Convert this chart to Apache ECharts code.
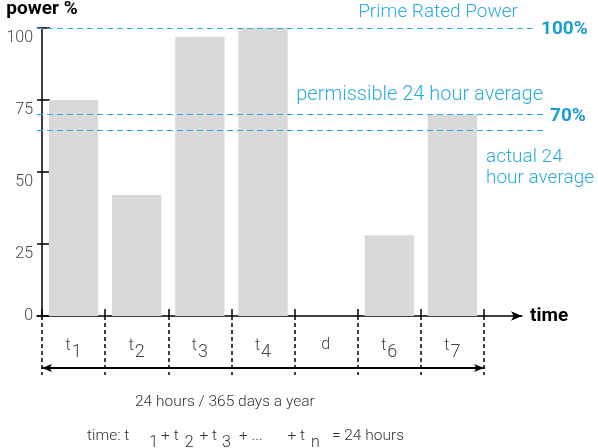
<!DOCTYPE html>
<html>
<head>
<meta charset="utf-8">
<script src="https://cdn.jsdelivr.net/npm/echarts@6/dist/echarts.min.js"></script>
<style>
  html, body { margin: 0; padding: 0; background: #fff; }
  #main { width: 598px; height: 448px; }
</style>
</head>
<body>
<div id="main"></div>
<script>
  // intervals of the day, d = downtime
  var periods = ['t1', 't2', 't3', 't4', 'd', 't6', 't7'];
  var powerValues = [75, 42, 97, 100, 0, 28, 70];
  var yTicks = [0, 25, 50, 75, 100];
  // prime rated, permissible average, actual average
  var refLevels = [100, 70, 64.6];

  var font = 'Roboto, "Liberation Sans", sans-serif';
  var cyan = '#2aabe0';
  var cyanBold = '#1a9dd2';
  var grey = '#444';

  var myChart = echarts.init(document.getElementById('main'));

  function dashed() {
    return { color: cyan, type: [6, 4], width: 1.2, opacity: 1 };
  }

  // formula text pieces: base text, subscripts, with gaps before each piece
  function base(gap) {
    return { color: '#333', fontSize: 15.5, fontWeight: 300, padding: [0, 0, 7, gap], fontFamily: font };
  }
  function sub(gap) {
    return { color: '#333', fontSize: 16, fontWeight: 300, padding: [7, 0, 0, gap], fontFamily: font };
  }

  var option = {
    animation: false,
    textStyle: { fontFamily: font },
    title: [
      { text: 'Prime Rated Power', right: 80, top: 3, padding: 0,
        textStyle: { color: cyan, fontSize: 19, fontWeight: 300, fontFamily: font } },
      { text: '100%', left: 541, top: 20, padding: 0,
        textStyle: { color: cyanBold, fontSize: 19, fontWeight: 'bold', fontFamily: font } },
      { text: 'permissible 24 hour average', right: 55, top: 85, padding: 0,
        textStyle: { color: cyan, fontSize: 20, fontWeight: 300, fontFamily: font } },
      { text: '70%', left: 550, top: 107, padding: 0,
        textStyle: { color: cyanBold, fontSize: 19, fontWeight: 'bold', fontFamily: font } },
      { text: 'actual 24\nhour average', left: 486, top: 147, padding: 0,
        textStyle: { color: cyan, fontSize: 19, fontWeight: 300, lineHeight: 21, fontFamily: font } },
      { text: '24 hours / 365 days a year', left: 135, top: 394, padding: 0,
        textStyle: { color: '#333', fontSize: 15.5, fontWeight: 300, fontFamily: font } },
      { text: '{a0|time: t}{s20|1}{a3|+ t}{s6|2}{a6|+ t}{s5|3}{a8|+ ...}{a25|+ t}{s6|n}{a12|= 24 hours}',
        left: 87, top: 428, padding: 0,
        textStyle: {
          fontFamily: font,
          rich: {
            a0: base(0), a3: base(3), a6: base(6), a8: base(8), a12: base(12), a25: base(25),
            s5: sub(5), s6: sub(6), s20: sub(20)
          }
        } }
    ],
    grid: [
      { left: 42, right: 114, top: 28, bottom: 132 },
      { left: 37, right: 53, top: 28, bottom: 132 },
      { left: 37, right: 76, top: 28, bottom: 132 }
    ],
    xAxis: [
      {
        type: 'category', gridIndex: 0, data: periods, position: 'bottom',
        axisLine: { show: false },
        axisTick: { show: true, inside: true, length: 7, lineStyle: { color: '#000', width: 1.5 } },
        axisLabel: {
          interval: 0, margin: 21, color: grey, fontSize: 16, fontWeight: 300,
          formatter: function (c) {
            return c.length > 1 ? '{t|' + c[0] + '}{n|' + c.slice(1) + '}' : '{t|' + c + '}';
          },
          rich: {
            t: { fontSize: 16, color: grey, fontWeight: 300, padding: [0, 1, 6, 0], fontFamily: font },
            n: { fontSize: 18, color: grey, fontWeight: 300, padding: [6, 0, 0, 0], fontFamily: font }
          }
        },
        splitLine: { show: false }
      },
      {
        type: 'category', gridIndex: 0, data: periods, position: 'bottom',
        axisLine: { show: false },
        axisTick: { show: true, inside: false, length: 59, lineStyle: { color: '#000', width: 1.5, type: [4, 3] } },
        axisLabel: { show: false },
        splitLine: { show: false }
      },
      {
        type: 'category', gridIndex: 0, data: periods, position: 'bottom', offset: 52,
        axisLine: { show: true, symbol: ['arrow', 'arrow'], symbolSize: [6, 10], lineStyle: { color: '#000', width: 2 } },
        axisTick: { show: false },
        axisLabel: { show: false },
        splitLine: { show: false }
      },
      {
        type: 'value', gridIndex: 1, min: 0, max: 100, show: false
      },
      {
        type: 'value', gridIndex: 2, min: 0, max: 1, position: 'bottom',
        axisLine: { show: true, onZero: false, symbol: ['none', 'arrow'], symbolSize: [7, 11], lineStyle: { color: '#000', width: 1.5 } },
        axisTick: { show: false },
        axisLabel: { show: false },
        splitLine: { show: false },
        name: 'time', nameLocation: 'end', nameGap: 8,
        nameTextStyle: { color: '#000', fontSize: 19, fontWeight: 'bold', fontFamily: font }
      }
    ],
    yAxis: [
      {
        type: 'value', gridIndex: 0, min: 0, max: 100, interval: 25, position: 'left',
        name: 'power %', nameLocation: 'end', nameGap: 9,
        nameTextStyle: { color: '#000', fontSize: 19, fontWeight: 'bold', fontFamily: font, align: 'center' },
        axisLine: { show: true, lineStyle: { color: '#000', width: 1.5 } },
        axisTick: { show: false },
        axisLabel: {
          margin: 9, color: grey, fontSize: 16, fontWeight: 300,
          customValues: yTicks,
          formatter: function (v) { return v === 0 ? '{z|0}' : '{a|' + v + '}'; },
          rich: {
            z: { fontSize: 16, color: grey, fontWeight: 300, fontFamily: font },
            a: { fontSize: 16, color: grey, fontWeight: 300, padding: [20, 0, 0, 0], fontFamily: font }
          }
        },
        splitLine: { show: false }
      },
      { type: 'value', gridIndex: 1, min: 0, max: 100, show: false },
      {
        // ticks crossing the power axis
        type: 'value', gridIndex: 2, min: 0, max: 100, interval: 25, position: 'left',
        axisLine: { show: false },
        axisTick: { show: true, inside: true, length: 13, lineStyle: { color: '#000', width: 1.5 } },
        axisLabel: { show: false },
        splitLine: { show: false }
      }
    ],
    series: [
      {
        name: 'power', type: 'bar', xAxisIndex: 0, yAxisIndex: 0,
        data: powerValues, barWidth: '78%',
        itemStyle: { color: '#d9d9d9' },
        silent: true
      },
      {
        name: 'levels', type: 'line', xAxisIndex: 3, yAxisIndex: 1,
        data: [], silent: true,
        markLine: {
          silent: true, symbol: 'none', label: { show: false },
          emphasis: { disabled: true },
          lineStyle: dashed(),
          data: [
            [{ coord: [0, refLevels[0]], lineStyle: dashed() }, { coord: [97.6, refLevels[0]] }],
            [{ coord: [0, refLevels[1]], lineStyle: dashed() }, { coord: [100, refLevels[1]] }],
            [{ coord: [0, refLevels[2]], lineStyle: dashed() }, { coord: [100, refLevels[2]] }]
          ]
        }
      }
    ]
  };

  myChart.setOption(option);
</script>
</body>
</html>
